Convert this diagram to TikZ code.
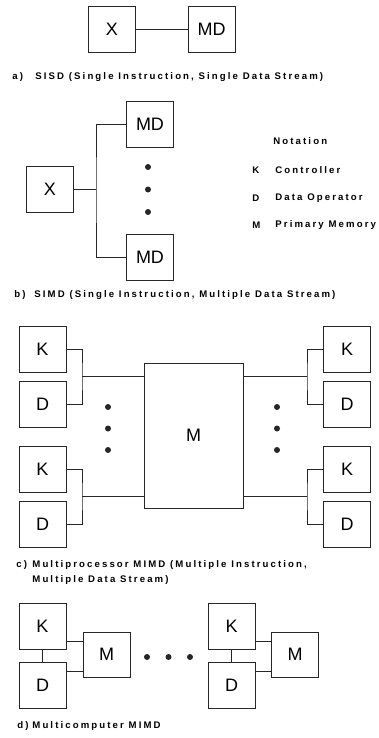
\documentclass[tikz,border=0pt]{standalone}
\usepackage{fontspec}
\setmainfont{Liberation Sans}
\newfontfamily\capfont[LetterSpace=22]{Liberation Sans}

\begin{document}
\begin{tikzpicture}[x=1pt, y=-1pt, line width=0.8pt, black!85,
  blk/.style={draw, text=black, minimum width=47pt, minimum height=46pt, inner sep=0pt,
    font=\fontsize{18}{20}\selectfont},
  capt/.style={anchor=west, inner sep=0pt, align=left, text=black,
    font=\capfont\bfseries\fontsize{9.6}{15}\selectfont},
  dotr/.style={radius=3}]

  % ── a) SISD：两个方框一条线 ──
  \node[blk] (xa)  at (112,29.5)  {X};
  \node[blk] (mda) at (211.5,29.5) {MD};
  \draw (xa) -- (mda);
  \node[capt] (capa) at (12,77) {\makebox[23pt][l]{a)}SISD (Single Instruction, Single Data Stream)};

  % ── b) SIMD：一个 X 分到上下两个 MD ──
  \node[blk] (xb)   at (50,189.5)  {X};
  \node[blk] (mdb1) at (150,124.5) {MD};
  \node[blk] (mdb2) at (150,257.5) {MD};
  \coordinate (jb) at (96,189.5);
  \draw (xb) -- (jb);
  \draw (mdb1.west) -| (jb) |- (mdb2.west);
  \foreach \y in {167,189.5,212} \fill (148,\y) circle[dotr];
  \node[capt] (capb) at (14,295) {\makebox[20pt][l]{b)}SIMD (Single Instruction, Multiple Data Stream)};

  % ── 记号表 ──
  \node[capt] (notn) at (273,141) {Notation};
  \foreach \y/\k/\t in {170/K/Controller, 198/D/Data Operator, 225/M/Primary Memory} {
    \node[capt] (key\k) at (252,\y) {\k};
    \node[capt] (txt\k) at (275,\y) {\t};
  }

  % ── c) 多处理机：四组 K/D 共用中间的 M ──
  \node[blk, minimum width=99pt, minimum height=145pt] (m) at (193.5,435.5) {M};
  \foreach \s/\x/\jx/\ms in {l/42.5/82/west, r/347/307/east}
    \foreach \n/\y in {1/349, 2/469} {
      \node[blk] (k\s\n) at (\x,\y)    {K};
      \node[blk] (d\s\n) at (\x,\y+55) {D};
      \coordinate (j\s\n) at (\jx,\y+27.5);
      \draw (k\s\n) -| (j\s\n) |- (d\s\n);
      \draw (j\s\n) -- (j\s\n -| m.\ms);
    }
  \foreach \x in {108,277}
    \foreach \y in {407,428.5,450} \fill (\x,\y) circle[dotr];
  \node[capt] (capc) at (16,572.5) {\makebox[16pt][l]{c)}Multiprocessor MIMD (Multiple Instruction,\\\hspace*{16pt}Multiple Data Stream)};

  % ── d) 多计算机：每台各有自己的 M ──
  \foreach \s/\xk/\xm in {a/42.5/106.5, b/231.5/295} {
    \node[blk] (kd\s) at (\xk,626) {K};
    \node[blk] (dd\s) at (\xk,685) {D};
    \node[blk, minimum height=45pt] (md\s) at (\xm,654.5) {M};
    \draw (kd\s) -- (dd\s);
    \draw (kd\s.east |- 0,641) -- (md\s.west |- 0,641);
    \draw (dd\s.east |- 0,671) -- (md\s.west |- 0,671);
  }
  \foreach \x in {147,168.5,190} \fill (\x,657) circle[dotr];
  \node[capt] (capd) at (17,726) {\makebox[15pt][l]{d)}Multicomputer MIMD};

  \path[use as bounding box] (0,0) rectangle (379,738);
\end{tikzpicture}
\end{document}
